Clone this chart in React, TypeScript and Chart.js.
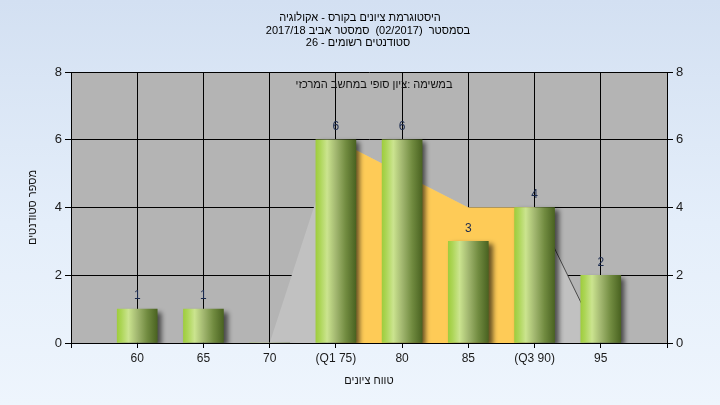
import React, { useEffect, useRef } from 'react';
import { Chart, registerables } from 'chart.js';

Chart.register(...registerables);

const titleLines = [
  'היסטוגרמת ציונים בקורס - אקולוגיה',
  'בסמסטר  (02/2017)  סמסטר אביב 2017/18',
  'סטודנטים רשומים - 26',
];
const subtitleText = 'במשימה :ציון סופי במחשב המרכזי';
const xAxisTitle = 'טווח ציונים';
const yAxisTitle = 'מספר סטודנטים';

const categories = ['60', '65', '70', '(Q1 75)', '80', '85', '(Q3 90)', '95'];
const studentCounts = [1, 1, 0, 6, 6, 3, 4, 2];
const distributionCurve = [0, 0, 0, 6, 5, 4, 4, 0];
const quartileBand = [null, null, null, 6, 5, 4, 4, null];
const yMin = 0;
const yMax = 8;
const yStep = 2;

const FONT = '"Liberation Sans", Arial, sans-serif';

// pad one empty category on each side (axis extends one step beyond data)
const pad = <T,>(arr: T[]): (T | null)[] => [null, ...arr, null];
const xLabels = ['', ...categories, ''];

const BAR_W = 40;

function barGradient(ctx: any) {
  const chart = ctx.chart;
  const xs = chart.scales && chart.scales.x;
  if (!xs || !chart.chartArea) return '#9ccb3b';
  const cx = xs.getPixelForValue(ctx.dataIndex);
  const x0 = cx - BAR_W / 2;
  const g = chart.ctx.createLinearGradient(x0, 0, x0 + BAR_W, 0);
  g.addColorStop(0, '#9fcd3e');
  g.addColorStop(0.1, '#acd556');
  g.addColorStop(0.28, '#cbe48f');
  g.addColorStop(0.5, '#a2b770');
  g.addColorStop(0.75, '#718b40');
  g.addColorStop(1, '#4a6321');
  return g;
}

const decorPlugin = {
  id: 'decor',
  beforeDraw(chart: any) {
    const { ctx, chartArea: a } = chart;
    ctx.save();
    ctx.fillStyle = '#b4b4b4';
    ctx.fillRect(a.left, a.top, a.right - a.left, a.bottom - a.top);
    ctx.restore();
  },
  beforeDatasetDraw(chart: any, args: any) {
    if (args.index === 0) {
      const ctx = chart.ctx;
      ctx.save();
      ctx.shadowColor = 'rgba(0,0,0,0.6)';
      ctx.shadowBlur = 5;
      ctx.shadowOffsetX = 4;
      ctx.shadowOffsetY = 3;
    }
  },
  afterDatasetDraw(chart: any, args: any) {
    if (args.index === 0) chart.ctx.restore();
  },
  afterDatasetsDraw(chart: any) {
    const { ctx, chartArea: a } = chart;
    ctx.save();
    // x axis line on top of fills
    const yb = Math.round(a.bottom - 0.5) + 0.5;
    ctx.strokeStyle = '#000';
    ctx.lineWidth = 1;
    ctx.beginPath();
    ctx.moveTo(a.left, yb);
    ctx.lineTo(a.right, yb);
    ctx.stroke();
    // value labels
    const meta = chart.getDatasetMeta(0);
    ctx.font = `12px ${FONT}`;
    ctx.fillStyle = '#1b2a4e';
    ctx.textAlign = 'center';
    ctx.textBaseline = 'middle';
    meta.data.forEach((el: any, i: number) => {
      const v = chart.data.datasets[0].data[i];
      if (v === null || v === 0) return;
      ctx.fillText(String(v), el.x, el.y - 13);
    });
    // subtitle inside plot
    ctx.direction = 'rtl';
    ctx.font = `11px ${FONT}`;
    ctx.fillStyle = '#111';
    ctx.fillText(subtitleText, (a.left + a.right) / 2 + 5, a.top + 13);
    ctx.restore();
  },
  afterDraw(chart: any) {
    const { ctx } = chart;
    ctx.save();
    ctx.direction = 'rtl';
    ctx.font = `11px ${FONT}`;
    ctx.fillStyle = '#000';
    ctx.textAlign = 'center';
    ctx.textBaseline = 'middle';
    const cx = chart.width / 2;
    const dx = [0, 8, -2];
    const ys = [17.5, 30.5, 43];
    titleLines.forEach((t, i) => ctx.fillText(t, cx + dx[i], ys[i]));
    ctx.restore();
  },
};

export default function App() {
  const ref = useRef<HTMLCanvasElement | null>(null);
  useEffect(() => {
    if (!ref.current) return;
    const chart = new Chart(ref.current, {
      type: 'bar',
      data: {
        labels: xLabels,
        datasets: [
          {
            type: 'bar',
            data: pad(studentCounts),
            backgroundColor: barGradient as any,
            borderWidth: 0,
            barThickness: BAR_W,
            order: 0,
          },
          {
            type: 'line',
            data: pad(quartileBand),
            backgroundColor: '#fecb57',
            borderWidth: 0,
            borderColor: 'transparent',
            pointRadius: 0,
            fill: 'origin',
            tension: 0,
            order: 1,
          },
          {
            type: 'line',
            data: pad(distributionCurve),
            backgroundColor: '#c1c1c1',
            borderWidth: 1,
            borderColor: 'transparent',
            segment: {
              borderColor: (c: any) => (c.p0DataIndex === 7 ? '#4a4a4a' : 'transparent'),
            },
            pointRadius: 0,
            fill: 'origin',
            tension: 0,
            order: 2,
          },
        ] as any,
      },
      options: {
        responsive: false,
        animation: false,
        events: [],
        layout: { padding: { top: 72, left: 0, right: 0, bottom: 0 } },
        plugins: {
          legend: { display: false },
          title: { display: false },
          tooltip: { enabled: false },
        },
        scales: {
          x: {
            offset: false,
            grid: { offset: false, color: '#000', tickLength: 5, lineWidth: 1 },
            border: { color: '#000' },
            ticks: {
              color: '#1a1a1a',
              font: { family: FONT, size: 12 },
              padding: 3,
              maxRotation: 0,
              autoSkip: false,
            },
            title: {
              display: true,
              text: xAxisTitle,
              color: '#111',
              font: { family: FONT, size: 11 },
              padding: { top: 0, bottom: 17 },
            },
            afterFit: (s: any) => {
              s.height = 62;
            },
          },
          y: {
            position: 'left',
            min: yMin,
            max: yMax,
            grid: { color: '#000', tickLength: 6, lineWidth: 1 },
            border: { color: '#000' },
            ticks: {
              stepSize: yStep,
              color: '#1a1a1a',
              font: { family: FONT, size: 13 },
              padding: 3,
            },
            title: {
              display: true,
              text: yAxisTitle,
              color: '#111',
              font: { family: FONT, size: 11 },
              padding: { top: 26, bottom: 0 },
            },
            afterFit: (s: any) => {
              s.width = 71;
            },
          },
          y2: {
            position: 'right',
            min: yMin,
            max: yMax,
            grid: { drawOnChartArea: false, color: '#000', tickLength: 6 },
            border: { color: '#000' },
            ticks: {
              stepSize: yStep,
              color: '#1a1a1a',
              font: { family: FONT, size: 13 },
              padding: 3,
            },
            afterFit: (s: any) => {
              s.width = 53;
            },
          },
        },
      } as any,
      plugins: [decorPlugin as any],
    });
    return () => chart.destroy();
  }, []);

  return (
    <div
      style={{
        position: 'fixed',
        left: 0,
        top: 0,
        width: 720,
        height: 405,
        background: 'linear-gradient(180deg, #d3e0f2 0%, #e4eefa 55%, #eef5fd 100%)',
      }}
    >
      <canvas ref={ref} width={720} height={405} style={{ display: 'block', width: 720, height: 405 }} />
    </div>
  );
}
